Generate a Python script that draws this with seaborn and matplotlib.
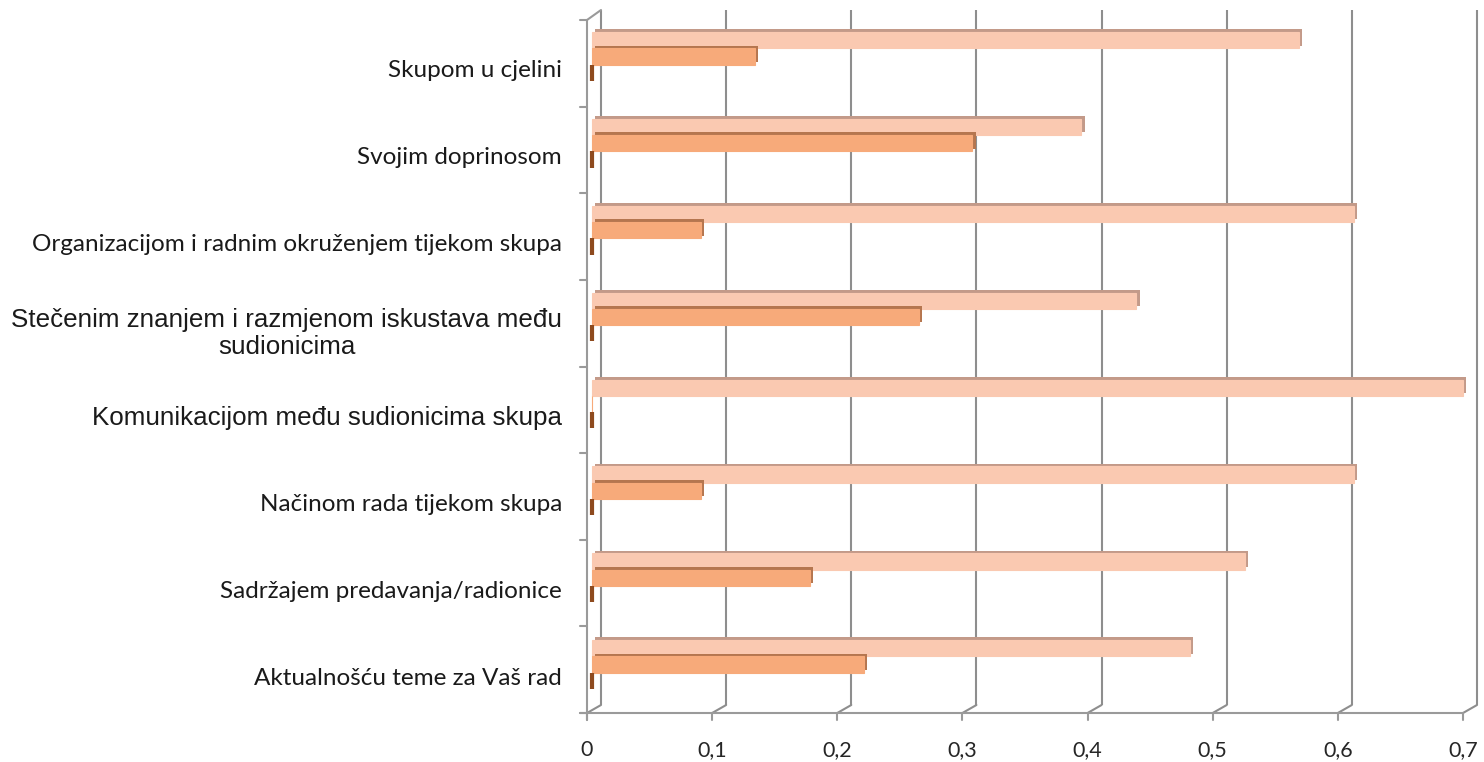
import numpy as np
import pandas as pd
import seaborn as sns
import matplotlib
matplotlib.use("Agg")
import matplotlib.pyplot as plt
from matplotlib.transforms import ScaledTranslation, Affine2D
from matplotlib.lines import Line2D
import matplotlib.patheffects as pe

# ---------------- data ----------------
categories = [
    "Skupom u cjelini",
    "Svojim doprinosom",
    "Organizacijom i radnim okruženjem tijekom skupa",
    "Stečenim znanjem i razmjenom iskustava među\nsudionicima",
    "Komunikacijom među sudionicima skupa",
    "Načinom rada tijekom skupa",
    "Sadržajem predavanja/radionice",
    "Aktualnošću teme za Vaš rad",
]
serija1 = [0.565, 0.391, 0.609, 0.435, 0.696, 0.609, 0.522, 0.478]
serija2 = [0.130, 0.304, 0.087, 0.261, 0.0, 0.087, 0.174, 0.217]
serija3 = [0.0, 0.0, 0.0, 0.0, 0.0, 0.0, 0.0, 0.0]
series_names = ["Serija 1", "Serija 2", "Serija 3"]
x_ticks = [0, 0.1, 0.2, 0.3, 0.4, 0.5, 0.6, 0.7]
x_tick_labels = ["0", "0,1", "0,2", "0,3", "0,4", "0,5", "0,6", "0,7"]

df = pd.DataFrame({
    "kategorija": categories * 3,
    "vrijednost": serija1 + serija2 + serija3,
    "serija": [n for n in series_names for _ in categories],
})

# ---------------- style ----------------
sns.set_style("white")
plt.rcParams["font.family"] = ["Lato", "DejaVu Sans"]

DPI = 100
W, H = 1484, 762
fig = plt.figure(figsize=(W / DPI, H / DPI), dpi=DPI)
L, R, T, B = 592, 1468, 13, 708
ax = fig.add_axes([L / W, (H - B) / H, (R - L) / W, (B - T) / H])

face = ["#FAC9B1", "#F7AA7A", "#A35A2A"]
shade = ["#C39A89", "#B5764F", "#6B3A1A"]
edge = ["#FAC9B1", "#F7AA7A", "#8E4A1E"]

sns.barplot(data=df, y="kategorija", x="vrijednost", hue="serija",
            order=categories, hue_order=series_names, palette=face,
            orient="h", width=0.56, dodge=True, saturation=1,
            errorbar=None, legend=False, ax=ax, zorder=3)

for cont, ec, sc, lw in zip(ax.containers, edge, shade, [0.8, 0.8, 3.0]):
    for bar in cont:
        bar.set_edgecolor(ec)
        bar.set_linewidth(lw)
        bar.set_clip_on(False)
        bar.set_path_effects([
            pe.SimplePatchShadow(offset=(2.3, 2.0), shadow_rgbFace=sc, alpha=1),
            pe.Normal(),
        ])

ax.set_xlim(0, 0.7)
ax.set_ylim(len(categories) - 0.5, -0.5)
ax.set_xticks(x_ticks, x_tick_labels)
ax.set_xlabel("")
ax.set_ylabel("")
ax.grid(False)
for s in ax.spines.values():
    s.set_visible(False)
ax.tick_params(axis="x", length=0, pad=23, labelsize=15.5, labelcolor="#262626")
ax.tick_params(axis="y", length=0, pad=21.6, labelcolor="#1a1a1a")


def off(dx, dy):
    """offset in image pixels (dy positive = down)"""
    return ScaledTranslation(dx / DPI, -dy / DPI, fig.dpi_scale_trans)


for lab in ax.get_xticklabels():
    lab.set_transform(lab.get_transform() + off(-5, 0))

big = {3, 4}
for i, lab in enumerate(ax.get_yticklabels()):
    lab.set_multialignment("center")
    if i in big:
        lab.set_fontfamily(["Liberation Sans", "DejaVu Sans"])
        lab.set_fontsize(18.7)
    else:
        lab.set_fontfamily(["Lato", "DejaVu Sans"])
        lab.set_fontsize(17.5)
    lab.set_transform(lab.get_transform() + off(0, 12))

grid_c = "#8E8E8E"
axis_c = "#9A9A9A"
# back-wall gridlines
gtr = ax.get_xaxis_transform() + off(9, -3)
for x in x_ticks:
    ax.plot([x, x], [0, 1], transform=gtr, color=grid_c, lw=1.5,
            zorder=1, clip_on=False, solid_capstyle="butt")

# pixel transform (x from left, y from top)
pix = Affine2D().scale(1, -1).translate(0, H).scale(1 / DPI) + fig.dpi_scale_trans
fig.canvas.draw()
back_bottom, front_bottom = B - 3, B + 5
front_top, back_top = T + 7, T - 3
for x in x_ticks:
    px = ax.transData.transform((x, 0))[0]
    # floor diagonal
    fig.add_artist(Line2D([px + 9, px - 5], [back_bottom, front_bottom],
                          transform=pix, color=grid_c, lw=1.5))
    # front tick marks
    fig.add_artist(Line2D([px - 5, px - 5], [front_bottom, front_bottom + 7],
                          transform=pix, color=axis_c, lw=1.5))
x0 = ax.transData.transform((0, 0))[0]
x7 = ax.transData.transform((0.7, 0))[0]
# front bottom axis
fig.add_artist(Line2D([x0 - 12, x7 - 5], [front_bottom, front_bottom],
                      transform=pix, color=axis_c, lw=1.5))
# front left axis
fig.add_artist(Line2D([x0 - 5, x0 - 5], [front_top, front_bottom + 7],
                      transform=pix, color=axis_c, lw=1.5))
# top-left diagonal
fig.add_artist(Line2D([x0 - 5, x0 + 9], [front_top, back_top],
                      transform=pix, color=axis_c, lw=1.5))
# category separator ticks on front left axis
n = len(categories)
for k in range(n + 1):
    yk = front_top + (front_bottom - front_top) * k / n
    fig.add_artist(Line2D([x0 - 12, x0 - 5], [yk, yk],
                          transform=pix, color=axis_c, lw=1.5))

fig.savefig("out.png", dpi=DPI)
